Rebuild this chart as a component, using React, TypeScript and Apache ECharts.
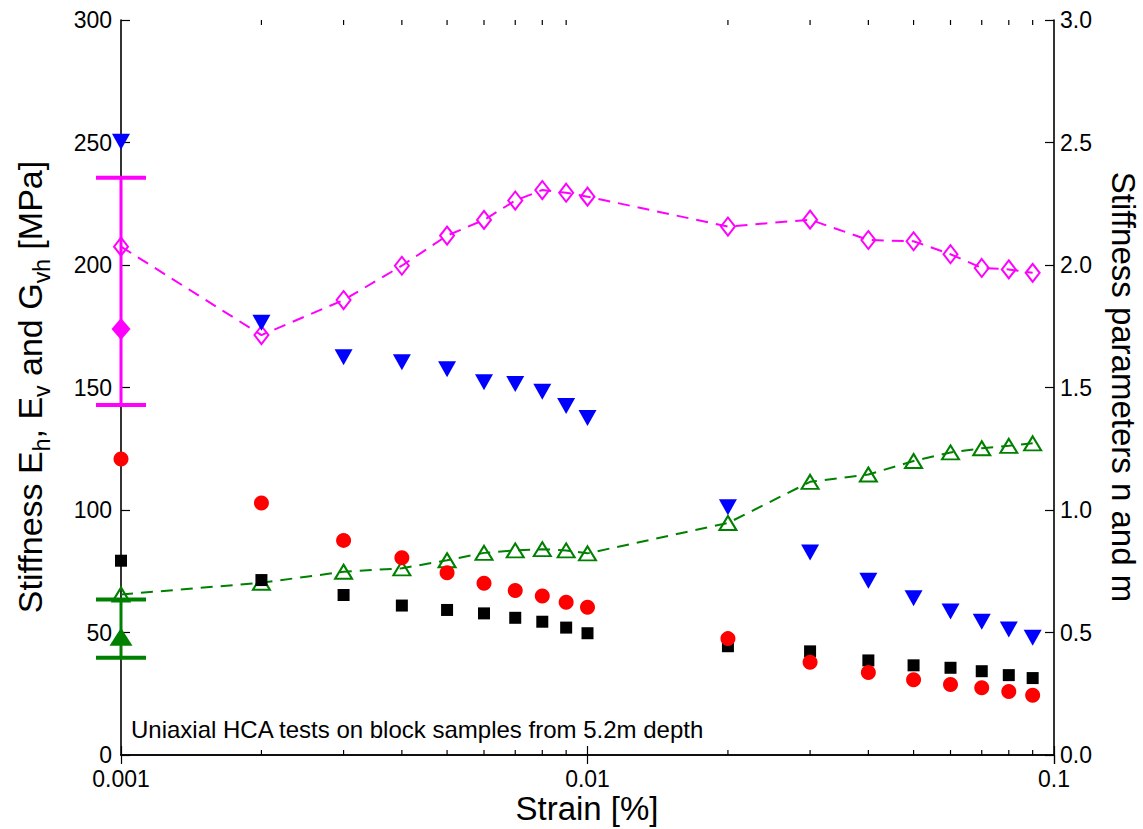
import { useEffect, useRef } from 'react';
import * as echarts from 'echarts';

// Strain [%]
const strain = [0.001, 0.002, 0.003, 0.004, 0.005, 0.006, 0.007, 0.008, 0.009, 0.01, 0.02, 0.03, 0.04, 0.05, 0.06, 0.07, 0.08, 0.09];
// Stiffness [MPa] (left axis)
const stiffBlue = [250.3, 176.4, 162.3, 160.3, 157.4, 152.1, 151.4, 148.3, 142.4, 137.6, 101.1, 82.7, 71.1, 64.0, 58.6, 54.4, 51.2, 47.9];
const stiffRed = [120.8, 102.9, 87.6, 80.5, 74.4, 70.1, 67.1, 64.9, 62.3, 60.3, 47.5, 37.9, 33.7, 30.7, 28.8, 27.4, 25.9, 24.4];
const stiffBlack = [79.3, 71.4, 65.3, 61.0, 59.2, 57.8, 56.0, 54.4, 52.0, 49.7, 44.4, 42.3, 38.6, 36.6, 35.6, 34.2, 32.6, 31.4];
// Stiffness parameters n and m (right axis)
const paramN = [2.075, 1.714, 1.857, 1.997, 2.12, 2.184, 2.263, 2.306, 2.295, 2.279, 2.157, 2.185, 2.102, 2.097, 2.044, 1.988, 1.982, 1.968];
const paramM = [0.655, 0.703, 0.748, 0.762, 0.795, 0.825, 0.835, 0.84, 0.835, 0.823, 0.947, 1.115, 1.145, 1.2, 1.235, 1.252, 1.262, 1.272];
// Error bars at 0.001 (left axis, MPa)
const errMagenta = { x: 0.001, low: 142.9, mid: 173.9, high: 235.6 };
const errGreen = { x: 0.001, low: 39.7, mid: 48.3, high: 63.5 };
// Axis ticks
const minorTicks = [0.002, 0.003, 0.004, 0.005, 0.006, 0.007, 0.008, 0.009, 0.02, 0.03, 0.04, 0.05, 0.06, 0.07, 0.08, 0.09];
const annotation = 'Uniaxial HCA tests on block samples from 5.2m depth';

const FONT = "'Liberation Sans', Arial, Helvetica, sans-serif";
const MAGENTA = '#FF00FF';
const GREEN = '#008000';
const BLUE = '#0000FF';
const RED = '#FF0000';

function errorBarSeries(e: { x: number; low: number; high: number }, color: string) {
  return {
    type: 'custom',
    xAxisIndex: 0,
    yAxisIndex: 0,
    clip: false,
    z: 3,
    data: [[e.x, e.low, e.high]],
    renderItem: (params: any, api: any) => {
      const x = api.value(0);
      const p1 = api.coord([x, api.value(1)]);
      const p2 = api.coord([x, api.value(2)]);
      const w = 25;
      return {
        type: 'group',
        children: [
          { type: 'line', shape: { x1: p1[0], y1: p1[1], x2: p2[0], y2: p2[1] }, style: { stroke: color, lineWidth: 3 } },
          { type: 'line', shape: { x1: p1[0] - w, y1: p1[1], x2: p1[0] + w, y2: p1[1] }, style: { stroke: color, lineWidth: 4 } },
          { type: 'line', shape: { x1: p2[0] - w, y1: p2[1], x2: p2[0] + w, y2: p2[1] }, style: { stroke: color, lineWidth: 4 } },
        ],
      };
    },
  };
}

export default function App() {
  const ref = useRef<HTMLDivElement>(null);
  useEffect(() => {
    const chart = echarts.init(ref.current!, null, { renderer: 'svg' });
    const xFmt = (v: number) => parseFloat(v.toPrecision(3)).toString();
    const axisLine = { show: true, lineStyle: { color: '#000', width: 1.6 } };
    const axisTick = { show: true, inside: true, length: 9, lineStyle: { color: '#000', width: 1.2 } };
    const option: any = {
      animation: false,
      backgroundColor: '#fff',
      textStyle: { fontFamily: FONT },
      grid: { left: 121, right: 89, top: 20, bottom: 74, containLabel: false },
      xAxis: [
        {
          type: 'log', logBase: 10, min: 0.001, max: 0.1, position: 'bottom',
          axisLine, axisTick,
          axisLabel: { color: '#000', fontSize: 23, lineHeight: 20, fontFamily: FONT, margin: 14, formatter: xFmt },
          splitLine: { show: false },
        },
        {
          type: 'log', logBase: 10, min: 0.001, max: 0.1, position: 'top',
          axisLine, axisTick,
          axisLabel: { show: false },
          splitLine: { show: false },
        },
      ],
      yAxis: [
        {
          type: 'value', min: 0, max: 300, interval: 50, position: 'left',
          axisLine, axisTick,
          axisLabel: { color: '#000', fontSize: 23, lineHeight: 18, fontFamily: FONT, margin: 9 },
          splitLine: { show: false },
        },
        {
          type: 'value', min: 0, max: 3, interval: 0.5, position: 'right',
          axisLine, axisTick,
          axisLabel: { color: '#000', fontSize: 23, lineHeight: 18, fontFamily: FONT, margin: 6, formatter: (v: number) => v.toFixed(1) },
          splitLine: { show: false },
        },
      ],
      graphic: [
        {
          type: 'text', x: 131, y: 741,
          style: { text: annotation, font: `24px ${FONT}`, fill: '#000', textAlign: 'left', textVerticalAlign: 'bottom' },
        },
        {
          type: 'text', x: 587, y: 808,
          style: { text: 'Strain [%]', font: `33px ${FONT}`, lineHeight: 34, fill: '#000', textAlign: 'center', textVerticalAlign: 'middle' },
        },
        {
          type: 'text', x: 1123, y: 387, rotation: -Math.PI / 2,
          style: { text: 'Stiffness parameters n and m', font: `33px ${FONT}`, fill: '#000', textAlign: 'center', textVerticalAlign: 'middle' },
        },
        {
          type: 'text', x: 30, y: 387, rotation: Math.PI / 2,
          style: {
            text: '{m|Stiffness E}{s|h}{m|, E}{s|v}{m| and G}{s|vh}{m| [MPa]}',
            textAlign: 'center', textVerticalAlign: 'middle', fill: '#000',
            rich: {
              m: { fontSize: 34, fontFamily: FONT, lineHeight: 46, fill: '#000' },
              s: { fontSize: 23, fontFamily: FONT, lineHeight: 18, verticalAlign: 'bottom', fill: '#000' },
            },
          },
        },
      ],
      series: [
        {
          type: 'custom', xAxisIndex: 0, yAxisIndex: 0, clip: false, z: 1,
          data: minorTicks.map((x) => [x, 0]),
          renderItem: (params: any, api: any) => {
            const x = api.value(0);
            const b = api.coord([x, 0]);
            const t = api.coord([x, 300]);
            return {
              type: 'group',
              children: [
                { type: 'line', shape: { x1: b[0], y1: b[1], x2: b[0], y2: b[1] - 5 }, style: { stroke: '#000', lineWidth: 1.2 } },
                { type: 'line', shape: { x1: t[0], y1: t[1], x2: t[0], y2: t[1] + 5 }, style: { stroke: '#000', lineWidth: 1.2 } },
              ],
            };
          },
        },
        errorBarSeries(errMagenta, MAGENTA),
        errorBarSeries(errGreen, GREEN),
        {
          type: 'line', yAxisIndex: 1, clip: false, z: 4,
          data: strain.map((x, i) => [x, paramN[i]]),
          symbol: 'diamond', symbolSize: [14, 18], showSymbol: true,
          itemStyle: { color: 'rgba(255,255,255,0)', borderColor: MAGENTA, borderWidth: 2, opacity: 1 },
          lineStyle: { color: MAGENTA, width: 2, type: [12, 8] },
        },
        {
          type: 'line', yAxisIndex: 1, clip: false, z: 4,
          data: strain.map((x, i) => [x, paramM[i]]),
          symbol: 'triangle', symbolSize: [17, 14], showSymbol: true,
          itemStyle: { color: 'rgba(255,255,255,0)', borderColor: GREEN, borderWidth: 2, opacity: 1 },
          lineStyle: { color: GREEN, width: 2, type: [12, 8] },
        },
        {
          type: 'scatter', yAxisIndex: 0, clip: false, z: 5,
          data: strain.map((x, i) => [x, stiffBlack[i]]),
          symbol: 'rect', symbolSize: 12,
          itemStyle: { color: '#000', opacity: 1 },
        },
        {
          type: 'scatter', yAxisIndex: 0, clip: false, z: 5,
          data: strain.map((x, i) => [x, stiffRed[i]]),
          symbol: 'circle', symbolSize: 15,
          itemStyle: { color: RED, opacity: 1 },
        },
        {
          type: 'scatter', yAxisIndex: 0, clip: false, z: 6,
          data: strain.map((x, i) => [x, stiffBlue[i]]),
          symbol: 'triangle', symbolRotate: 180, symbolSize: [18, 16],
          itemStyle: { color: BLUE, opacity: 1 },
        },
        {
          type: 'scatter', yAxisIndex: 0, clip: false, z: 6,
          data: [[errMagenta.x, errMagenta.mid]],
          symbol: 'diamond', symbolSize: [19, 22],
          itemStyle: { color: MAGENTA, opacity: 1 },
        },
        {
          type: 'scatter', yAxisIndex: 0, clip: false, z: 6,
          data: [[errGreen.x, errGreen.mid]],
          symbol: 'triangle', symbolSize: [23, 18],
          itemStyle: { color: GREEN, opacity: 1 },
        },
      ],
    };
    chart.setOption(option);
    return () => chart.dispose();
  }, []);
  return <div ref={ref} style={{ position: 'fixed', left: 0, top: 0, width: 1143, height: 829, background: '#fff' }} />;
}
